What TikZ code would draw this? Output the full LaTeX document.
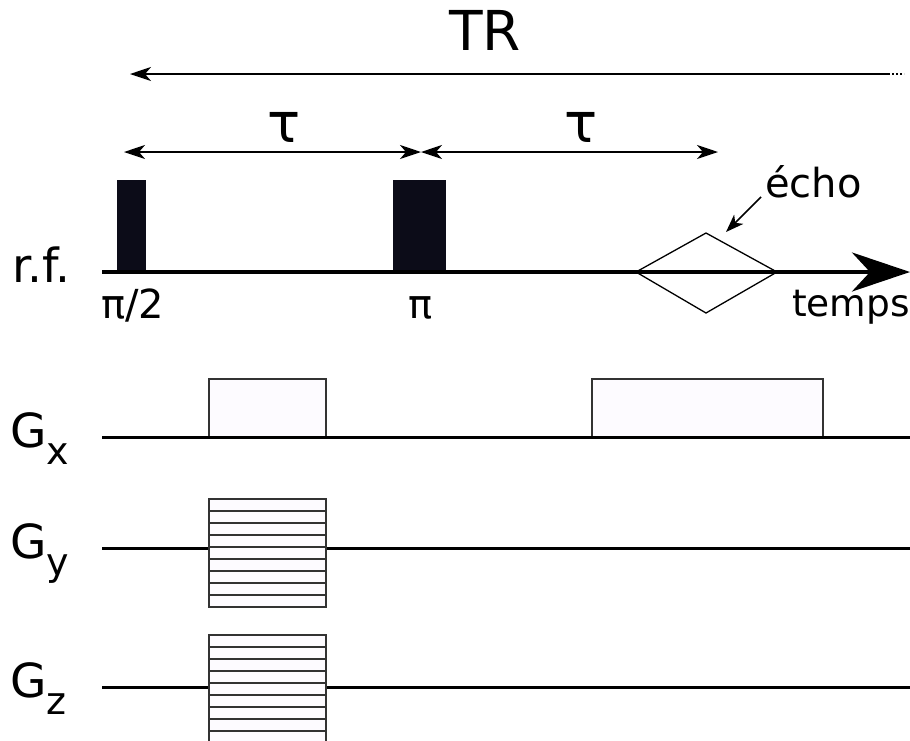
\documentclass[tikz,border=0pt]{standalone}
\usepackage{fontspec}
\setmainfont{DejaVu Sans}
\usetikzlibrary{arrows.meta}
\definecolor{pulsecol}{HTML}{0C0C18}
\definecolor{boxfill}{HTML}{FDFBFF}
\begin{document}
\begin{tikzpicture}[x=1pt,y=-1pt,
  big/.style={font=\fontsize{55}{60}\selectfont, inner sep=0},
  glab/.style={font=\fontsize{47}{52}\selectfont, inner sep=0},
  mid/.style={font=\fontsize{40}{44}\selectfont, inner sep=0},
  axis/.style={line width=4pt},
  gline/.style={line width=3pt},
  pulse/.style={fill=pulsecol, draw=none},
  gbox/.style={draw=black!80, line width=1.6pt, fill=boxfill},
  dim/.style={line width=1.6pt, {Stealth[length=21pt,width=14pt,inset=6pt]}-{Stealth[length=21pt,width=14pt,inset=6pt]}},
  stripe/.style={draw=black!80, line width=1.8pt}]
\useasboundingbox (0,0) rectangle (910,740);
% TR
\node[big, anchor=base] (TR) at (485,50) {TR};
\coordinate (TRl) at (130,74);
\coordinate (TRr) at (888,74);
\coordinate (TRd) at (904,74);
\draw[line width=1.6pt, {Stealth[length=21pt,width=14pt,inset=6pt]}-] (TRl) -- (TRr);
\draw[line width=2.2pt, dash pattern=on 2pt off 2pt] (TRr) -- (TRd);
% tau arrows
\coordinate (t1) at (124,152);
\coordinate (t2) at (421,152);
\coordinate (t3) at (718,152);
\draw[dim] (t1) -- (t2);
\draw[dim] (t2) -- (t3);
\node[big, anchor=base] (tau1) at (284,142) {τ};
\node[big, anchor=base] (tau2) at (581,142) {τ};
% rf
\node[glab, anchor=base west] (rf) at (12,282) {r.f.};
\coordinate (rfL) at (102,272);
\coordinate (rfR) at (910,272);
\node[pulse, minimum width=29pt, minimum height=92pt, inner sep=0] (p1) at (131.5,226) {};
\node[pulse, minimum width=53pt, minimum height=92pt, inner sep=0] (p2) at (419.5,226) {};
\draw[axis, -{Stealth[length=58pt,width=39pt,inset=18pt]}] (rfL) -- (rfR);
\node[mid, anchor=base west] (pi2) at (101,318) {π/2};
\node[mid, anchor=base] (pi) at (421,318) {π};
% echo
\coordinate (eL) at (636,272);
\coordinate (eT) at (706,233);
\coordinate (eR) at (777,272);
\coordinate (eB) at (706,313);
\draw[line width=1.3pt] (eL) -- (eT) -- (eR) -- (eB) -- cycle;
\node[mid, anchor=base west] (echo) at (765,197) {écho};
\coordinate (ea) at (761,197);
\coordinate (eb) at (726,232);
\draw[line width=1.6pt, -{Stealth[length=18pt,width=13pt,inset=5pt]}] (ea) -- (eb);
\node[font=\fontsize{37.5}{42}\selectfont, inner sep=0, anchor=base west] (temps) at (792,316) {temps};
% Gx
\node[glab, anchor=base west] (gx) at (10,447) {G\raisebox{-17pt}{\fontsize{38}{42}\selectfont x}};
\coordinate (gxL) at (102,437);
\coordinate (gxR) at (910,437);
\draw[gbox] (209,437) rectangle (326,379);
\draw[gbox] (592,437) rectangle (823,379);
\draw[gline] (gxL) -- (gxR);
% Gy
\node[glab, anchor=base west] (gy) at (10,558) {G\raisebox{-17pt}{\fontsize{38}{42}\selectfont y}};
\coordinate (gyL) at (102,548);
\coordinate (gyR) at (910,548);
\draw[gline] (gyL) -- (209,548);
\draw[gline] (326,548) -- (gyR);
\draw[gbox] (209,499) rectangle (326,607);
\foreach \k in {1,...,8} \draw[stripe] (209,499+\k*12) -- (326,499+\k*12);
% Gz
\node[glab, anchor=base west] (gz) at (10,697) {G\raisebox{-17pt}{\fontsize{38}{42}\selectfont z}};
\coordinate (gzL) at (102,687);
\coordinate (gzR) at (910,687);
\draw[gline] (gzL) -- (209,687);
\draw[gline] (326,687) -- (gzR);
\draw[gbox] (209,635) rectangle (326,744);
\foreach \k in {1,...,8} \draw[stripe] (209,635+\k*12) -- (326,635+\k*12);
\end{tikzpicture}
\end{document}
